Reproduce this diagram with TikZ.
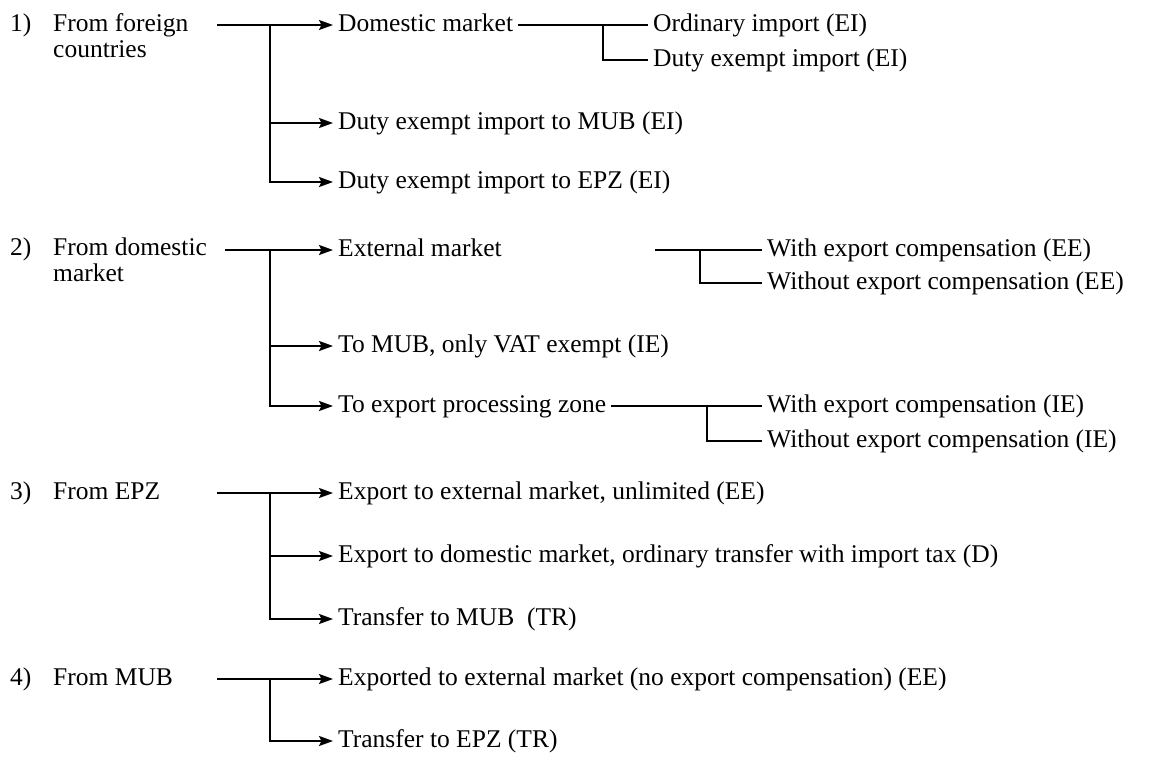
\documentclass[tikz,border=0pt]{standalone}
\usepackage{fontspec}
\setmainfont{Liberation Serif}
\usetikzlibrary{arrows.meta}
\begin{document}
\begin{tikzpicture}[x=1pt,y=-1pt,
  every node/.style={font=\fontsize{25.5}{26}\selectfont},
  item/.style={anchor=west,inner ysep=0pt,inner xsep=5pt,text height=12pt,text depth=0pt},
  src/.style={anchor=base west,inner sep=0pt},
  num/.style={anchor=base west,inner sep=0pt},
  link/.style={line width=2pt},
  arr/.style={link,-{Stealth[length=14pt,width=10pt,inset=2.5pt]}}]
\useasboundingbox (0,0) rectangle (1151,764);

% ---- 1) From foreign countries
\node[num] (n1) at (10,31) {1)};
\node[src] (f1) at (53,31) {\begin{tabular}[t]{@{}l@{}}From foreign\\countries\end{tabular}};
\coordinate (s1) at (217,25);
\coordinate (j1) at (270,25);
\node[item] (a1) at (333,25) {Domestic market};
\node[item] (a2) at (333,123) {Duty exempt import to MUB (EI)};
\node[item] (a3) at (333,182) {Duty exempt import to EPZ (EI)};
\draw[arr] (s1) -- (a1);
\draw[arr] (j1) |- (a2);
\draw[arr] (j1) |- (a3);
\node[item] (b1) at (648,25) {Ordinary import (EI)};
\node[item] (b2) at (648,60) {Duty exempt import (EI)};
\coordinate (k1) at (603,25);
\draw[link] (a1.east) -- (b1.west);
\draw[link] (k1) |- (b2.west);

% ---- 2) From domestic market
\node[num] (n2) at (10,255) {2)};
\node[src] (f2) at (53,255) {\begin{tabular}[t]{@{}l@{}}From domestic\\market\end{tabular}};
\coordinate (s2) at (225,250);
\coordinate (j2) at (270,250);
\node[item] (c1) at (333,250) {External market};
\node[item] (c2) at (333,346) {To MUB, only VAT exempt (IE)};
\node[item] (c3) at (333,406) {To export processing zone};
\draw[arr] (s2) -- (c1);
\draw[arr] (j2) |- (c2);
\draw[arr] (j2) |- (c3);
\node[item] (d1) at (762,250) {With export compensation (EE)};
\node[item] (d2) at (762,283) {Without export compensation (EE)};
\coordinate (t2) at (655,250);
\coordinate (k2) at (700,250);
\draw[link] (t2) -- (d1.west);
\draw[link] (k2) |- (d2.west);
\node[item] (e1) at (762,406) {With export compensation (IE)};
\node[item] (e2) at (762,441) {Without export compensation (IE)};
\coordinate (k3) at (707,406);
\draw[link] (c3.east) -- (e1.west);
\draw[link] (k3) |- (e2.west);

% ---- 3) From EPZ
\node[num] (n3) at (10,499) {3)};
\node[src] (f3) at (53,499) {From EPZ};
\coordinate (s3) at (217,493);
\coordinate (j3) at (270,493);
\node[item] (g1) at (333,493) {Export to external market, unlimited (EE)};
\node[item] (g2) at (333,556) {Export to domestic market, ordinary transfer with import tax (D)};
\node[item] (g3) at (333,619) {Transfer to MUB~ (TR)};
\draw[arr] (s3) -- (g1);
\draw[arr] (j3) |- (g2);
\draw[arr] (j3) |- (g3);

% ---- 4) From MUB
\node[num] (n4) at (10,685) {4)};
\node[src] (f4) at (53,685) {From MUB};
\coordinate (s4) at (217,679);
\coordinate (j4) at (270,679);
\node[item] (h1) at (333,679) {Exported to external market (no export compensation) (EE)};
\node[item] (h2) at (333,741) {Transfer to EPZ (TR)};
\draw[arr] (s4) -- (h1);
\draw[arr] (j4) |- (h2);
\end{tikzpicture}
\end{document}
